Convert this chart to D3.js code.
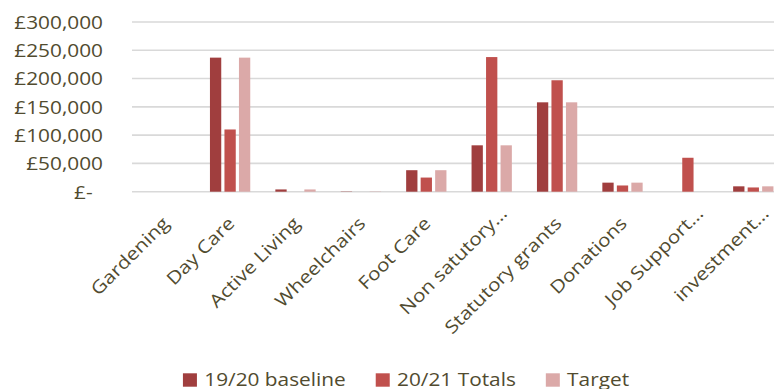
<!DOCTYPE html>
<html>
<head>
<meta charset="utf-8">
<script src="https://cdn.jsdelivr.net/npm/d3@7"></script>
<style>
  html, body { margin: 0; padding: 0; background: #fff; }
  svg { display: block; }
  text { font-family: "Open Sans", Lato, sans-serif; fill: #514B2F; }
</style>
</head>
<body>
<div id="chart"></div>
<script>
// Income by activity: 19/20 baseline, 20/21 totals and target
const categories = ["Gardening", "Day Care", "Active Living", "Wheelchairs", "Foot Care",
  "Non satutory\u2026", "Statutory grants", "Donations", "Job Support\u2026", "investment\u2026"];
const seriesNames = ["19/20 baseline", "20/21 Totals", "Target"];
const baseline1920 = [0, 237000, 4000, 500, 38000, 82000, 158000, 16000, 0, 9500];
const totals2021 = [0, 110000, 0, 0, 25000, 238000, 197000, 11000, 60000, 7500];
const target = [0, 237000, 4000, 500, 38000, 82000, 158000, 16000, 0, 9500];
const yTicks = [0, 50000, 100000, 150000, 200000, 250000, 300000];
const colors = ["#A03E3E", "#C0504D", "#DBA9A8"];

const W = 774, H = 389;
const fontSize = 17.8;
const widen = 1.17;            // text is drawn a little wide

const svg = d3.select("#chart").append("svg")
  .attr("width", W).attr("height", H);

const plot = { left: 132, right: 786, top: 22, bottom: 191.7 };

const x = d3.scaleBand().domain(categories)
  .range([plot.left, plot.right]).paddingInner(0).paddingOuter(0);
const xs = d3.scaleBand().domain(seriesNames)
  .range([-20.15, 20.15]).paddingInner(0.221).paddingOuter(0);
const y = d3.scaleLinear().domain([0, 300000]).range([plot.bottom, plot.top]);

// gridlines
svg.append("g").selectAll("line").data(yTicks).join("line")
  .attr("x1", plot.left).attr("x2", W)
  .attr("y1", d => y(d)).attr("y2", d => y(d))
  .attr("stroke", "#D9D9D9").attr("stroke-width", 1.6);

// y axis labels
const fmt = d => d === 0 ? "£-\u2002" : "£" + d3.format(",")(d);
const yAxis = d3.axisLeft(y).tickValues(yTicks).tickFormat(fmt).tickSize(0).tickPadding(0);
const yg = svg.append("g").attr("transform", "translate(103,0)").call(yAxis);
yg.select(".domain").remove();
yg.selectAll("text")
  .attr("x", 0).attr("dy", "0.36em")
  .attr("transform", `scale(${widen},1)`)
  .attr("font-size", fontSize).attr("fill", "#514B2F")
  .style("font-family", "'Open Sans', Lato, sans-serif");

// bars
const series = [baseline1920, totals2021, target];
const rows = categories.map((c, i) => ({ c, vals: series.map((s, k) => ({ k, name: seriesNames[k], v: s[i] })) }));
const groups = svg.append("g").selectAll("g").data(rows).join("g")
  .attr("transform", d => `translate(${x(d.c) + x.bandwidth() / 2},0)`);
groups.selectAll("rect").data(d => d.vals).join("rect")
  .attr("x", d => xs(d.name))
  .attr("width", xs.bandwidth())
  .attr("y", d => y(d.v))
  .attr("height", d => y(0) - y(d.v))
  .attr("fill", d => colors[d.k]);

// category labels, rotated
svg.append("g").selectAll("text").data(categories).join("text")
  .attr("transform", d => {
    const short = d.endsWith("\u2026");
    const cx = x(d) + x.bandwidth() / 2 + (short ? 7 : -4);
    return `translate(${cx},${short ? 205 : 215}) rotate(-45) scale(${widen},1)`;
  })
  .attr("text-anchor", "end")
  .attr("dy", "0.76em")
  .attr("font-size", fontSize)
  .text(d => d);

// legend
const legend = svg.append("g");
const items = legend.selectAll("g").data(seriesNames).join("g");
items.append("rect").attr("width", 14).attr("height", 13.4).attr("y", 373.3)
  .attr("fill", (d, i) => colors[i]);
items.append("text").attr("transform", `translate(21.3,386) scale(${widen},1)`)
  .attr("font-size", fontSize).text(d => d);
let pos = 0;
const offsets = [];
const gap = 30;
items.each(function () {
  offsets.push(pos);
  const w = 21.3 + widen * d3.select(this).select("text").node().getComputedTextLength();
  pos += w + gap;
});
const total = pos - gap;
const start = 406 - total / 2;
items.attr("transform", (d, i) => `translate(${start + offsets[i]},0)`);
</script>
</body>
</html>
